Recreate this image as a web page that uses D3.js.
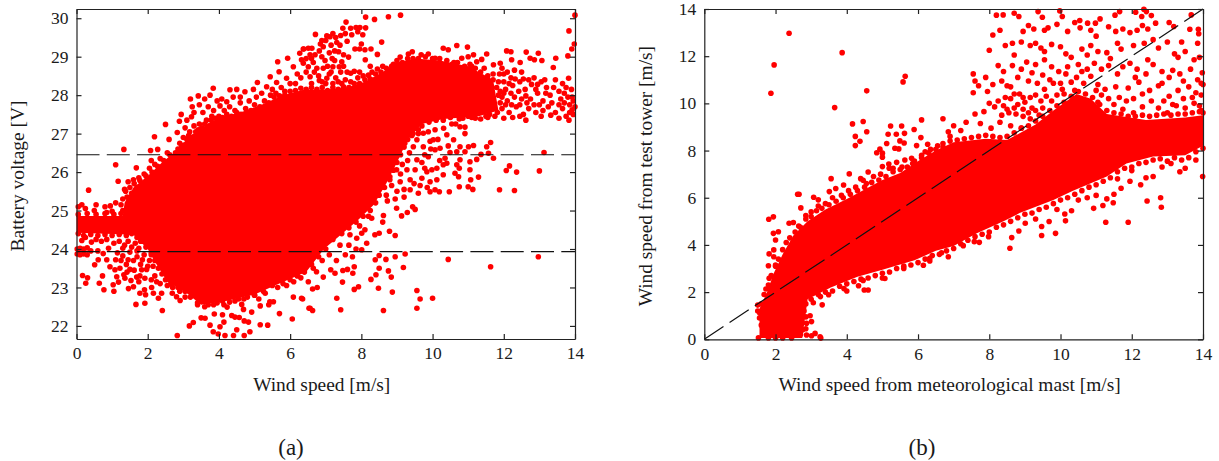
<!DOCTYPE html>
<html>
<head>
<meta charset="utf-8">
<script src="https://cdn.jsdelivr.net/npm/d3@7"></script>
<style>
	html, body { margin: 0; background: #fff; }
	svg { display: block; font-family: "Liberation Serif", serif; }
	.tick text { font-family: "Liberation Serif", serif; font-size: 17.5px; fill: #1a1a1a; }
	.tick line, .domain { stroke: #222; stroke-width: 1.2; }
</style>
</head>
<body>
<svg id="chart" width="1219" height="461"></svg>
<script>
const xTicks = [0, 2, 4, 6, 8, 10, 12, 14];
const voltageTicks = [22, 23, 24, 25, 26, 27, 28, 29, 30];
const towerTicks = [0, 2, 4, 6, 8, 10, 12, 14];
const voltageLimits = [26.45, 23.93];

// panel (a): the part of the cloud too dense to resolve single points, as an outline
const batteryCore = [
	[0, 24.42], [0, 24.86], [1.3, 24.86], [1.35, 25.2], [1.6, 25.6], [2.0, 25.9], [2.4, 26.25], [2.8, 26.55], [3.2, 26.95],
	[3.6, 27.2], [4.0, 27.42], [4.6, 27.55], [5.2, 27.75], [5.8, 28.0], [6.4, 28.15], [7.0, 28.15], [7.6, 28.2], [8.1, 28.35],
	[8.6, 28.6], [9.0, 28.85], [9.5, 28.95], [10.2, 28.9], [11.0, 28.75], [11.7, 28.4], [11.85, 27.6], [11.3, 27.45], [10.3, 27.38],
	[9.7, 27.25], [9.3, 26.85], [9.0, 26.25], [8.7, 25.7], [8.35, 25.15], [7.9, 24.75], [7.4, 24.35], [6.95, 24.0], [6.45, 23.4], [5.7, 23.1],
	[5.0, 22.82], [4.2, 22.65], [3.5, 22.55], [3.1, 22.85], [2.55, 23.15], [2.25, 23.6], [2.0, 24.0], [1.6, 24.37]
];

const batteryUpper = [
	[0.34, 25.53], [1.10, 26.19], [1.33, 26.59], [1.17, 25.76], [1.68, 26.11], [2.19, 26.92], [2.08, 26.56], [2.28, 26.59], [2.5, 27.24], [2.6, 26.85],
	[2.94, 27.5], [2.89, 27.32], [2.83, 27.03], [3.2, 27.9], [3.42, 27.98], [3.23, 27.44], [3.84, 28.18], [3.75, 28.0], [3.6, 27.9], [4.03, 27.72],
	[4.08, 27.9], [4.31, 28.14], [4.5, 28.15], [4.22, 27.83], [4.73, 28.09], [4.97, 28.15], [5.08, 28.33], [5.65, 28.87], [5.93, 28.96], [5.69, 28.61],
	[5.44, 28.48], [5.34, 28.22], [5.62, 28.33], [5.9, 28.44], [6.09, 28.74], [6.27, 29.09], [6.38, 29.2], [6.32, 28.92], [6.51, 28.74], [6.51, 29.22],
	[1.35, 25.55], [1.45, 25.75], [1.6, 25.8], [1.75, 25.85], [1.9, 25.95], [2.05, 26.1], [2.1, 26.3], [2.2, 26.2], [2.35, 26.35], [2.55, 26.5],
	[3.0, 26.9], [3.05, 27.15], [3.1, 27.35], [3.25, 27.7], [3.3, 27.55], [3.45, 27.75], [3.55, 27.55], [3.7, 27.7], [3.85, 27.6], [3.95, 27.85],
	[2.95, 26.65], [3.15, 26.95], [3.3, 27.2], [3.45, 27.25], [3.65, 27.35], [3.8, 27.45], [4.15, 27.6], [4.3, 27.7], [4.45, 27.6], [4.6, 27.8],
	[4.4, 27.95], [4.6, 27.95], [4.85, 27.85], [5.05, 27.95], [5.2, 28.05], [5.5, 28.15], [5.75, 28.2], [5.85, 28.1], [6.0, 28.3], [6.2, 28.55],
	[6.15, 28.3], [6.3, 28.45], [6.45, 28.6], [6.6, 28.3], [5.45, 28.0], [5.6, 28.05],
	[8.12, 30.03], [8.37, 29.97], [8.76, 30.04], [9.1, 30.08], [7.57, 29.9], [7.48, 29.74], [7.7, 29.74], [7.85, 29.76], [7.96, 29.76], [8.12, 29.75],
	[7.73, 29.57], [8.04, 29.57], [6.71, 29.58], [7.2, 29.6], [7.03, 29.54], [6.89, 29.42], [7.31, 29.37], [8.57, 29.38], [8.0, 29.33], [8.27, 29.2],
	[7.82, 29.2], [8.1, 29.18], [8.45, 29.06], [8.11, 28.92], [6.61, 29.22], [6.37, 29.2], [6.93, 29.26], [7.36, 29.13], [7.64, 28.99], [7.45, 28.87],
	[6.89, 29.0], [6.56, 29.05], [6.7, 29.05], [6.37, 28.83], [6.93, 28.7], [6.75, 28.7], [7.2, 28.74], [7.38, 28.74], [7.7, 28.57], [6.56, 28.48],
	[7.03, 28.44], [7.35, 28.35], [7.15, 29.3], [7.25, 29.15], [7.1, 29.1], [6.98, 28.9], [6.8, 28.5], [6.65, 28.85], [7.55, 29.6], [7.42, 29.55],
	[7.95, 29.2], [7.15, 28.6], [6.9, 28.35], [7.55, 28.4], [7.9, 28.45], [8.05, 28.5], [8.3, 28.6], [8.6, 28.75], [8.9, 28.8], [8.75, 28.6],
	[6.45, 28.95], [6.6, 28.95], [6.82, 29.15], [6.85, 29.33], [7.0, 29.42], [7.12, 29.52], [7.28, 29.5], [7.05, 28.75], [7.1, 28.55], [7.28, 28.45],
	[7.42, 28.6], [7.5, 28.75], [7.6, 28.6], [7.8, 28.62], [7.95, 28.6], [6.68, 28.6], [6.82, 28.38], [7.0, 28.3], [7.2, 28.3], [7.45, 28.3],
	[7.7, 28.35], [8.2, 28.52], [8.45, 28.68], [8.25, 28.75], [7.25, 28.9], [7.5, 29.05], [7.18, 28.95], [7.9, 29.65], [7.6, 29.4], [7.4, 29.3]
];

const batteryRight = [
	[9.09, 28.99], [9.32, 29.07], [9.43, 29.13], [9.68, 29.05], [9.88, 29.07], [10.07, 28.96], [10.3, 29.22], [10.44, 29.18], [10.68, 29.29], [10.98, 29.25],
	[10.82, 28.96], [11.0, 29.0], [11.15, 29.05], [11.38, 28.93], [11.52, 29.07], [11.24, 28.87], [12.08, 29.15], [12.2, 29.13], [12.22, 28.92], [11.9, 28.83],
	[11.71, 28.79], [12.46, 28.85], [12.63, 29.12], [12.74, 28.96], [12.97, 29.09], [12.86, 28.92], [13.07, 28.9], [13.46, 28.96], [13.39, 28.72], [13.8, 29.02],
	[13.91, 29.2], [13.98, 29.33], [13.83, 29.67], [14.0, 30.08], [13.82, 28.44], [9.6, 28.95], [10.2, 28.95], [10.6, 28.85], [11.1, 28.75], [11.45, 28.7],
	[11.7, 28.55], [11.95, 28.7], [12.1, 28.6], [12.3, 28.65], [12.5, 28.6], [12.2, 28.45], [12.0, 28.35], [11.9, 28.1], [12.05, 28.15], [12.25, 28.25],
	[12.45, 28.35], [12.6, 28.15], [12.7, 28.4], [12.85, 28.45], [13.05, 28.35], [13.2, 28.2], [13.45, 28.4], [13.3, 28.0], [13.55, 28.1], [13.75, 28.2],
	[13.9, 28.15], [13.6, 27.9], [13.8, 27.95], [13.95, 27.85], [12.1, 27.85], [12.3, 27.95], [12.5, 27.9], [12.75, 27.9], [12.95, 28.05], [13.1, 27.85],
	[11.95, 27.65], [12.15, 27.55], [12.35, 27.7], [12.55, 27.5], [12.7, 27.65], [12.9, 27.55], [13.1, 27.6], [13.25, 27.7], [13.45, 27.55], [13.65, 27.65],
	[13.75, 27.45], [13.85, 27.55], [14.0, 27.7], [13.92, 27.62], [13.83, 27.35], [12.62, 27.35], [12.45, 27.45], [12.25, 27.42], [13.32, 27.48], [13.05, 27.45],
	[11.75, 27.45], [11.55, 27.42], [11.35, 27.38], [11.1, 27.42], [10.85, 27.4], [12.0, 27.4], [13.55, 27.4], [13.95, 27.5],
	[12.0, 28.55], [12.15, 28.3], [12.32, 28.42], [12.55, 28.42], [12.78, 28.28], [12.95, 28.28], [12.62, 27.98], [12.42, 28.1], [12.2, 28.05], [12.05, 27.75],
	[12.22, 27.75], [12.45, 27.75], [12.65, 27.8], [12.85, 27.75], [13.0, 27.75], [13.18, 28.05], [13.35, 27.8], [13.55, 27.75], [13.7, 27.8], [13.85, 27.75],
	[13.92, 27.95], [13.7, 28.05], [13.4, 28.2], [13.15, 28.4], [12.9, 28.15], [11.95, 27.95], [12.0, 28.05], [11.85, 28.35], [11.88, 28.55], [13.65, 28.3],
	[10.4, 26.97], [10.77, 27.18], [10.91, 27.17], [10.91, 27.0], [10.54, 27.25], [10.65, 27.25], [10.31, 27.14], [10.07, 27.1], [9.88, 27.05], [9.93, 26.8],
	[10.02, 26.84], [10.21, 26.62], [10.07, 26.58], [9.88, 26.4], [10.35, 26.36], [10.3, 26.19], [10.4, 26.23], [10.12, 26.1], [9.84, 26.01], [9.98, 26.06],
	[10.3, 25.93], [10.12, 25.8], [9.93, 25.75], [9.7, 25.84], [9.51, 26.06], [9.56, 26.32], [9.7, 26.25], [9.37, 25.8], [9.37, 25.54], [9.6, 25.45],
	[10.07, 25.54], [9.09, 25.75], [8.8, 25.88], [8.99, 26.06], [9.28, 26.06], [9.74, 26.66], [9.56, 26.84], [9.46, 26.66], [9.74, 27.01], [9.51, 27.14],
	[11.88, 25.54], [12.3, 25.52], [12.07, 26.04], [12.16, 26.16], [12.36, 26.0], [13.0, 26.03], [13.13, 26.51], [11.29, 25.87], [11.71, 26.36], [11.57, 26.49],
	[11.52, 26.66], [11.63, 26.77], [11.36, 26.46], [11.24, 26.33], [11.05, 26.27], [11.05, 26.06], [11.07, 25.8], [11.13, 25.55], [11.0, 25.62], [10.77, 26.32],
	[10.75, 26.1], [10.68, 26.19], [10.73, 25.88], [10.75, 25.62], [10.63, 25.97], [11.15, 26.69], [11.01, 26.66], [10.77, 26.66], [10.91, 26.53], [10.68, 26.53],
	[10.49, 26.51], [10.44, 26.68], [10.59, 26.84], [10.19, 25.49], [10.47, 25.49], [9.93, 25.49], [8.95, 25.3], [9.2, 25.35], [8.55, 25.6], [8.7, 25.4],
	[9.35, 26.5], [9.3, 26.3], [9.22, 26.75], [9.42, 26.95], [9.6, 27.0], [9.15, 26.2], [9.1, 25.95], [9.2, 25.55], [9.0, 25.5], [8.85, 25.65],
	[9.48, 25.7], [9.78, 26.1], [9.65, 25.65], [9.85, 25.6], [10.2, 26.3], [10.15, 26.85], [9.95, 26.6], [9.78, 26.45]
];

const batteryLower = [
	[0.05, 25.1], [0.15, 25.15], [0.25, 25.05], [0.55, 25.15], [0.5, 25.0], [0.8, 25.1], [0.95, 25.12], [1.1, 25.2], [1.25, 25.15], [0.85, 24.95],
	[1.3, 25.0], [1.0, 24.98], [0.25, 24.3], [0.55, 24.25], [0.7, 24.2], [1.05, 24.15], [1.45, 24.2], [1.65, 24.15], [1.8, 24.2], [2.0, 24.15],
	[0.02, 24.0], [0.1, 24.02], [0.2, 24.0], [0.3, 24.03], [0.02, 23.87], [0.1, 23.85], [0.2, 23.87], [0.3, 23.85], [0.4, 23.95], [0.6, 23.95],
	[0.75, 23.88], [0.9, 24.02], [1.15, 23.9], [1.3, 24.02], [1.5, 23.92], [1.7, 23.95], [1.9, 23.85], [2.1, 23.9],
	[0.51, 23.59], [0.61, 23.72], [0.85, 23.72], [0.94, 23.54], [0.17, 23.31], [0.31, 23.25], [0.26, 23.11], [0.64, 23.11], [0.73, 23.3], [0.77, 22.94],
	[1.03, 23.07], [1.05, 22.9], [1.13, 23.28], [1.18, 23.14], [1.36, 23.24], [1.33, 23.33], [1.46, 22.97], [1.6, 23.02], [1.53, 23.18], [1.08, 23.46],
	[1.22, 23.5], [1.5, 23.47], [1.69, 23.27], [1.83, 23.46], [1.97, 23.47], [1.92, 23.24], [1.78, 22.85], [1.91, 22.94], [1.94, 22.81], [1.67, 22.56],
	[1.92, 22.59], [2.41, 22.4], [2.11, 23.0], [2.16, 22.85], [2.39, 22.85], [2.3, 22.72], [2.69, 22.85], [2.81, 22.76], [2.91, 22.66], [1.25, 23.7],
	[1.4, 23.6], [1.6, 23.7], [1.8, 23.6], [2.05, 23.7], [2.2, 23.3], [2.35, 23.1], [2.55, 23.05], [2.7, 23.0], [2.9, 22.9], [3.05, 22.75],
	[3.17, 22.0], [3.28, 22.09], [3.5, 22.21], [3.61, 22.2], [3.87, 22.31], [4.1, 22.29], [3.75, 22.02], [3.84, 21.85], [3.98, 21.79], [4.03, 21.98],
	[4.14, 22.1], [4.17, 21.75], [4.41, 21.75], [4.71, 21.75], [4.87, 21.85], [4.5, 21.9], [4.36, 22.27], [4.45, 22.23], [4.57, 22.22], [4.71, 22.13],
	[4.83, 22.1], [4.92, 22.36], [4.69, 22.43], [4.64, 22.56], [4.14, 22.55], [4.23, 22.49], [5.16, 22.03], [5.37, 22.02], [5.7, 22.32], [6.06, 22.18],
	[2.83, 21.75], [6.09, 22.75], [6.32, 22.72], [6.53, 22.46], [5.16, 22.52], [5.43, 22.63], [5.53, 22.63], [5.12, 22.7], [5.4, 22.55], [3.4, 22.55],
	[3.7, 22.55], [3.95, 22.6], [4.45, 22.65], [4.7, 22.7], [5.0, 22.8], [5.3, 22.85], [5.65, 23.0], [5.9, 23.05], [6.1, 23.15], [6.3, 23.25],
	[6.35, 22.7], [6.56, 22.46], [6.63, 22.4], [6.63, 22.96], [6.76, 23.0], [7.31, 22.72], [7.42, 22.42], [6.93, 23.27], [7.47, 23.14], [7.8, 22.95],
	[7.92, 23.02], [8.27, 23.21], [8.48, 22.98], [8.62, 22.4], [8.87, 22.88], [9.56, 22.92], [9.65, 22.7], [10.0, 22.72], [9.56, 22.46], [8.84, 23.27],
	[8.76, 23.43], [9.18, 23.52], [8.95, 23.8], [9.23, 23.87], [8.69, 23.73], [8.5, 23.5], [8.41, 23.33], [8.39, 23.72], [8.5, 23.83], [10.44, 23.73],
	[11.63, 23.54], [12.97, 23.8], [7.76, 23.37], [7.61, 23.47], [7.48, 23.44], [7.8, 23.54], [7.26, 23.37], [7.14, 23.46], [6.65, 23.5], [6.51, 23.15],
	[6.74, 23.41], [8.01, 23.98], [8.95, 24.35], [8.79, 24.46], [8.5, 24.41], [8.38, 24.37], [8.15, 24.15], [8.6, 24.7], [8.62, 24.87], [8.99, 25.06],
	[9.13, 24.86], [9.29, 24.95], [9.51, 25.03], [9.44, 25.1], [8.73, 25.25], [8.29, 24.8], [8.1, 24.5], [7.87, 24.28], [7.68, 24.37], [8.01, 24.41],
	[6.9, 23.7], [7.1, 23.85], [7.3, 23.7], [7.55, 23.85], [7.75, 23.8], [7.85, 24.0], [7.4, 24.1], [7.65, 24.1], [7.95, 24.6], [8.2, 24.85],
	[0.15, 24.22], [0.42, 24.18], [0.85, 24.25], [1.2, 24.2], [1.35, 24.1], [1.55, 24.05], [1.75, 24.02], [1.1, 23.72], [1.3, 23.82], [1.45, 23.72],
	[1.7, 23.8], [1.85, 23.72], [2.0, 23.55], [2.15, 23.55], [2.1, 23.2], [1.75, 23.15], [1.42, 23.4], [1.62, 23.45], [1.78, 23.3], [2.25, 23.15]
];

// edge of the dense part, where single dots still show
const batteryFringe = [
	[1.3, 25.3], [1.38, 25.5], [1.42, 25.35], [1.5, 25.6], [1.55, 25.45], [1.62, 25.7], [1.7, 25.6], [1.78, 25.78], [1.85, 25.7], [1.95, 25.9],
	[2.02, 25.8], [2.12, 26.0], [2.2, 25.95], [2.28, 26.15], [2.38, 26.1], [2.45, 26.3], [2.52, 26.2], [2.62, 26.45], [2.7, 26.35], [2.78, 26.5],
	[2.85, 26.6], [2.9, 26.75], [3.02, 26.7], [3.1, 26.85], [3.18, 27.05], [3.22, 26.9], [3.35, 27.05], [3.42, 27.1], [3.52, 27.15], [3.6, 27.25],
	[3.72, 27.2], [3.78, 27.35], [3.9, 27.4], [4.0, 27.45], [4.1, 27.42], [4.22, 27.5], [4.35, 27.45], [4.5, 27.55], [4.62, 27.5], [4.75, 27.65],
	[4.9, 27.6], [5.0, 27.75], [5.15, 27.7], [5.28, 27.85], [5.4, 27.8], [5.55, 27.95], [5.7, 27.98], [5.85, 28.0], [6.0, 28.1], [6.15, 28.12],
	[6.3, 28.18], [6.45, 28.15], [6.6, 28.2], [6.75, 28.15], [6.9, 28.2], [7.05, 28.12], [7.2, 28.2], [7.35, 28.15], [7.5, 28.22], [7.65, 28.2],
	[7.8, 28.3], [7.95, 28.3], [8.1, 28.4], [8.25, 28.42], [8.4, 28.55], [8.55, 28.6], [8.7, 28.7], [8.85, 28.75], [9.0, 28.9], [9.15, 28.85],
	[9.3, 28.95], [9.45, 28.95], [9.8, 29.0], [10.0, 28.95], [10.2, 28.85], [10.4, 28.9], [10.55, 28.8], [10.7, 28.85], [10.9, 28.75], [11.05, 28.8],
	[11.2, 28.7], [11.35, 28.6], [11.55, 28.5], [11.7, 28.4], [11.8, 28.2], [11.85, 28.0], [11.9, 27.8], [11.82, 27.55], [11.6, 27.5], [11.5, 27.45],
	[11.2, 27.4], [11.0, 27.45], [10.75, 27.38], [10.5, 27.42], [10.3, 27.35], [10.1, 27.35], [9.9, 27.3], [9.7, 27.2], [9.6, 27.1], [9.45, 27.0],
	[9.3, 26.85], [9.2, 26.65], [9.1, 26.45], [9.0, 26.25], [8.9, 26.05], [8.8, 25.8], [8.65, 25.6], [8.5, 25.4], [8.4, 25.2], [8.25, 25.0],
	[8.05, 24.85], [7.85, 24.7], [7.65, 24.55], [7.45, 24.4], [7.2, 24.25], [7.0, 24.0], [6.8, 23.8], [6.6, 23.6], [6.4, 23.4], [6.2, 23.3],
	[6.0, 23.2], [5.8, 23.1], [5.5, 23.05], [5.25, 22.9], [5.0, 22.8], [4.8, 22.75], [4.55, 22.7], [4.3, 22.62], [4.1, 22.65], [3.85, 22.55],
	[3.6, 22.5], [3.4, 22.6], [3.2, 22.75], [3.05, 22.9], [2.85, 23.0], [2.65, 23.1], [2.5, 23.2], [2.4, 23.35], [2.3, 23.5], [2.2, 23.7],
	[2.1, 23.85], [1.95, 24.05], [1.85, 24.2], [1.7, 24.3], [1.55, 24.4], [1.4, 24.35], [1.2, 24.38], [1.0, 24.35], [0.8, 24.38], [0.6, 24.35],
	[0.4, 24.38], [0.2, 24.35], [0.05, 24.4], [0.05, 24.9], [0.3, 24.92], [0.55, 24.9], [0.8, 24.92], [1.05, 24.9], [1.25, 24.92]
];

// panel (b)
const towerCore = [
	[1.55, 0.05], [1.55, 1.3], [1.75, 1.95], [1.95, 2.8], [2.2, 3.6], [2.5, 4.4], [2.9, 5.0], [3.4, 5.5], [4.0, 5.95], [4.5, 6.35],
	[5.0, 6.75], [5.5, 7.05], [6.05, 7.6], [6.5, 8.0], [7.0, 8.35], [7.9, 8.5], [8.5, 8.45], [9.3, 9.1], [9.8, 9.7], [10.45, 10.4],
	[10.85, 10.2], [11.3, 9.55], [12.4, 9.3], [13.5, 9.4], [14, 9.5], [14, 8.2], [13.5, 7.8], [12.6, 7.75], [11.85, 7.45], [11.3, 6.9],
	[10.35, 6.3], [9.8, 5.9], [8.85, 5.35], [8.4, 5.0], [7.65, 4.5], [7.0, 3.95], [6.5, 3.75], [5.9, 3.35], [5.0, 2.95], [4.3, 2.65],
	[3.55, 2.2], [2.9, 1.7], [2.75, 0.05]
];

const towerLeft = [
	[1.87, 10.43], [1.96, 11.63], [2.38, 12.97], [3.87, 12.15], [3.66, 9.82], [4.56, 10.53], [5.58, 10.91], [5.64, 11.15], [4.16, 9.13], [4.46, 9.23],
	[4.56, 8.8], [4.24, 8.6], [4.37, 8.39], [4.24, 8.21], [5.23, 9.04], [5.54, 9.04], [5.16, 8.69], [5.39, 8.69], [5.62, 8.73], [5.89, 8.89],
	[6.08, 8.55], [5.49, 8.41], [5.61, 8.32], [5.12, 8.3], [5.35, 8.1], [5.46, 8.07], [5.96, 8.21], [6.27, 8.27], [4.93, 8.06], [4.84, 7.91],
	[5.0, 7.89], [5.0, 7.72], [5.4, 7.5], [5.63, 7.6], [5.82, 7.67], [5.0, 7.32], [5.18, 7.43], [5.19, 7.25], [4.07, 7.01], [4.6, 7.09],
	[3.56, 6.81], [4.39, 6.81], [4.46, 6.74], [3.69, 6.39], [3.51, 6.26], [3.91, 6.54], [2.62, 6.15], [2.66, 6.15], [3.07, 6.02], [3.2, 5.91],
	[1.81, 5.09], [1.94, 5.19], [2.71, 5.57], [2.38, 4.92], [2.5, 4.95], [1.94, 4.49], [2.08, 4.56], [2.0, 4.21], [1.95, 3.79], [1.82, 3.62],
	[1.95, 3.5], [1.8, 3.12], [2.0, 3.15], [1.82, 2.59], [1.73, 2.13], [1.84, 2.23], [1.52, 0.06], [1.5, 1.45], [1.56, 1.1], [2.65, 4.8],
	[2.85, 5.25], [3.0, 5.4], [3.2, 5.65], [3.4, 5.75], [3.6, 6.0], [3.85, 6.1], [4.05, 6.3], [4.25, 6.45], [4.55, 6.6], [4.75, 6.9],
	[4.95, 7.0], [5.3, 7.25], [5.55, 7.3], [5.85, 7.45], [6.1, 7.8], [6.2, 7.95], [6.35, 8.05], [6.55, 8.2], [6.7, 8.3], [6.9, 8.6]
];

const towerLower = [
	[2.97, 1.0], [3.01, 0.75], [2.87, 0.68], [2.76, 0.4], [3.11, 0.25], [3.25, 0.11], [3.27, 0.05], [2.87, 0.18], [3.01, 0.15], [3.31, 1.46],
	[3.06, 1.55], [3.49, 1.89], [3.26, 1.81], [3.92, 2.15], [4.0, 2.05], [4.33, 2.27], [4.46, 2.49], [4.6, 2.09], [4.49, 2.09], [5.0, 2.6],
	[5.07, 2.58], [5.6, 3.0], [6.15, 3.14], [6.33, 3.43], [6.33, 3.32], [6.66, 3.67], [6.85, 3.5], [7.27, 3.97], [7.58, 4.14], [7.72, 4.11],
	[7.98, 4.35], [8.58, 3.86], [8.63, 4.31], [8.83, 4.59], [9.01, 4.92], [9.47, 4.4], [9.47, 4.78], [9.86, 4.49], [9.68, 4.99], [10.14, 5.02],
	[10.31, 5.45], [10.12, 5.31], [11.27, 4.96], [11.9, 4.96], [12.81, 6.0], [12.83, 5.6], [12.43, 5.86], [10.93, 5.55], [11.19, 5.67], [11.48, 5.79],
	[9.3, 5.1], [9.9, 5.5], [10.5, 5.9], [10.75, 6.0], [11.0, 6.1], [11.3, 5.95], [11.5, 6.15], [11.7, 6.4], [11.95, 6.7], [12.25, 6.55],
	[12.4, 6.85], [12.6, 6.9], [12.85, 7.3], [13.1, 7.45], [13.35, 7.1], [13.99, 6.9], [13.5, 7.25], [13.8, 7.6], [12.0, 7.15], [11.6, 6.8]
];

const towerUpper = [
	[8.2, 13.74], [8.39, 13.75], [8.7, 13.82], [8.83, 13.68], [9.37, 13.89], [9.49, 13.65], [9.98, 13.92], [10.05, 13.68], [10.4, 13.43], [10.54, 13.51],
	[10.76, 13.4], [10.98, 13.4], [11.11, 13.58], [11.53, 13.74], [11.66, 13.89], [12.11, 13.86], [12.34, 13.99], [12.41, 13.89], [12.28, 13.68], [12.55, 13.72],
	[12.67, 13.4], [13.05, 13.43], [13.18, 13.26], [13.67, 13.75], [13.63, 13.14], [13.87, 13.14], [13.88, 12.95], [8.3, 13.1], [8.1, 12.9], [9.1, 13.3],
	[8.95, 13.05], [9.25, 13.15], [9.55, 13.1], [9.65, 13.2], [9.9, 13.35], [10.2, 13.05], [10.55, 13.2], [10.85, 13.1], [11.0, 12.85], [11.35, 13.25],
	[11.55, 13.05], [11.75, 13.15], [11.95, 13.0], [12.15, 13.1], [12.3, 13.3], [12.45, 13.15], [12.6, 12.7], [13.0, 12.6], [8.0, 12.25], [8.45, 12.45],
	[8.65, 12.55], [8.9, 12.6], [9.15, 12.45], [9.3, 12.55], [9.45, 12.35], [9.75, 12.5], [10.0, 12.4], [10.15, 12.1], [10.3, 11.95], [10.6, 12.3],
	[10.85, 12.45], [11.05, 12.2], [11.3, 12.15], [11.6, 12.55], [11.7, 12.3], [12.05, 12.45], [12.35, 12.55], [12.75, 12.35], [13.4, 12.6], [13.5, 12.2],
	[13.9, 11.95], [13.75, 11.85], [13.3, 11.95], [13.15, 11.4], [8.4, 11.35], [8.65, 11.6], [8.9, 11.45], [9.05, 11.75], [9.3, 11.65], [9.55, 11.85],
	[9.75, 11.55], [9.95, 11.35], [10.2, 11.55], [10.5, 11.65], [10.75, 11.45], [10.95, 11.7], [11.15, 11.45], [11.35, 11.6], [11.6, 11.25], [11.95, 11.7],
	[12.15, 11.45], [12.4, 11.25], [12.6, 11.65], [12.85, 11.35], [13.05, 11.1], [13.35, 11.25], [13.65, 11.45], [13.85, 11.0], [13.95, 10.85], [7.55, 11.25],
	[7.9, 11.1], [7.6, 10.95], [7.7, 10.75], [7.55, 10.45], [7.95, 10.5], [8.1, 10.8], [8.35, 10.95], [8.6, 10.7], [8.85, 10.4], [9.1, 10.95],
	[9.35, 10.85], [9.55, 10.6], [9.8, 10.85], [10.05, 10.6], [10.3, 10.9], [10.65, 10.85], [11.05, 10.8], [11.25, 10.6], [11.55, 10.7], [11.9, 10.65],
	[12.2, 10.9], [12.5, 10.55], [12.75, 10.75], [13.05, 10.3], [13.3, 10.55], [13.6, 10.7], [13.8, 10.45], [8.0, 10.0], [7.85, 9.65], [8.15, 9.85],
	[8.4, 9.9], [8.6, 10.2], [8.8, 9.95], [9.0, 10.05], [9.2, 9.8], [9.45, 10.1], [8.35, 9.5], [8.55, 9.6], [8.75, 9.55], [8.95, 9.45],
	[9.15, 9.35], [9.4, 9.5], [7.6, 9.55], [7.35, 9.2], [6.7, 9.35], [6.1, 9.3], [7.75, 9.15], [7.2, 8.85], [7.0, 9.05], [6.85, 8.8],
	[8.05, 8.95], [8.3, 9.2], [8.6, 9.05], [8.9, 8.95], [11.05, 10.05], [11.35, 10.2], [11.5, 9.95], [11.75, 9.75], [12.05, 9.6], [12.3, 9.85],
	[12.55, 10.1], [12.75, 9.8], [13.0, 9.6], [13.25, 9.9], [13.5, 9.8], [13.75, 10.0], [13.95, 9.7], [13.9, 9.9], [14, 10.8], [13.98, 11.3],
	[8.45, 10.25], [8.25, 10.1], [8.7, 10.4], [8.95, 10.25], [9.15, 10.25], [9.3, 10.35], [8.5, 9.75], [8.7, 9.8], [8.95, 9.75], [9.1, 9.6],
	[9.3, 9.7], [9.5, 9.8], [9.6, 10.3], [9.75, 10.1], [9.9, 10.35], [10.1, 10.4], [10.0, 10.85], [9.7, 11.0], [10.45, 11.1], [10.6, 11.35],
	[10.15, 11.25], [9.5, 11.2], [9.2, 11.3], [8.8, 11.1], [8.5, 10.75], [11.15, 10.35], [11.0, 10.55], [11.65, 10.25], [11.85, 10.1], [12.05, 10.2],
	[12.3, 10.4], [12.9, 10.1], [13.15, 9.95], [13.45, 10.2], [13.7, 10.25], [13.95, 10.35], [12.1, 11.1], [11.75, 11.55], [10.85, 11.15], [10.4, 10.55],
	[12.85, 10.85], [13.45, 10.95], [13.2, 12.1], [13.85, 12.55], [12.45, 11.85], [11.4, 11.9], [10.75, 12.05], [9.55, 12.2], [8.7, 12.05], [8.25, 11.6]
];

const towerFringe = [
	[1.6, 1.5], [1.68, 1.9], [1.8, 2.3], [1.88, 2.7], [2.0, 3.1], [2.08, 3.4], [2.2, 3.8], [2.3, 4.1], [2.4, 4.3], [2.55, 4.55],
	[2.7, 4.75], [2.85, 5.1], [3.0, 5.2], [3.15, 5.45], [3.3, 5.55], [3.5, 5.7], [3.7, 5.85], [3.9, 6.0], [4.1, 6.15], [4.3, 6.3],
	[4.5, 6.45], [4.7, 6.65], [4.9, 6.75], [5.1, 6.9], [5.3, 7.1], [5.5, 7.2], [5.7, 7.3], [5.9, 7.55], [6.1, 7.7], [6.3, 7.9],
	[6.5, 8.05], [6.7, 8.15], [6.9, 8.4], [7.1, 8.45], [7.3, 8.5], [7.5, 8.55], [7.7, 8.6], [7.9, 8.65], [8.1, 8.6], [8.3, 8.55],
	[8.5, 8.6], [8.7, 8.75], [8.9, 8.95], [9.1, 9.05], [9.3, 9.25], [9.5, 9.45], [9.7, 9.7], [9.9, 9.9], [10.1, 10.05], [10.3, 10.3],
	[10.5, 10.5], [10.7, 10.4], [10.9, 10.25], [11.1, 9.95], [11.3, 9.7], [11.5, 9.6], [11.7, 9.55], [11.9, 9.45], [12.1, 9.45], [12.3, 9.5],
	[12.5, 9.45], [12.7, 9.5], [12.9, 9.55], [13.1, 9.5], [13.3, 9.55], [13.5, 9.55], [13.7, 9.6], [13.9, 9.65], [14, 9.6], [14, 8.1],
	[13.8, 7.95], [13.6, 7.7], [13.4, 7.6], [13.2, 7.7], [13.0, 7.55], [12.8, 7.65], [12.6, 7.6], [12.4, 7.5], [12.2, 7.45], [12.0, 7.3],
	[11.8, 7.25], [11.6, 7.1], [11.4, 6.85], [11.2, 6.7], [11.0, 6.55], [10.8, 6.45], [10.6, 6.3], [10.4, 6.15], [10.2, 6.0], [10.0, 5.9],
	[9.8, 5.75], [9.6, 5.6], [9.4, 5.5], [9.2, 5.35], [9.0, 5.3], [8.8, 5.15], [8.6, 5.0], [8.4, 4.85], [8.2, 4.75], [8.0, 4.55],
	[7.8, 4.45], [7.6, 4.35], [7.4, 4.2], [7.2, 4.05], [7.0, 3.85], [6.8, 3.75], [6.6, 3.6], [6.4, 3.55], [6.2, 3.4], [6.0, 3.25],
	[5.8, 3.15], [5.6, 3.1], [5.4, 3.0], [5.2, 2.85], [5.0, 2.8], [4.8, 2.7], [4.6, 2.6], [4.4, 2.55], [4.2, 2.45], [4.0, 2.35],
	[3.8, 2.25], [3.6, 2.05], [3.4, 2.0], [3.2, 1.9], [3.0, 1.7], [2.85, 1.5], [2.8, 1.2], [2.85, 0.95], [2.75, 0.7], [2.85, 0.45],
	[2.7, 0.2], [1.5, 1.2], [1.55, 0.9], [1.6, 0.6], [1.65, 0.4], [1.75, 0.2], [1.8, 0.06], [2.0, 0.06], [2.2, 0.06], [2.45, 0.06]
];

const width = 1219;
const height = 461;
const svg = d3.select("#chart");

function drawPanel(opts) {
	const { left, right, top, bottom, yDomain, yTicks, core, points, xLabel, yLabel, yLabelX, caption, captionX } = opts;
	const x = d3.scaleLinear().domain([0, 14]).range([left, right]);
	const y = d3.scaleLinear().domain(yDomain).range([bottom, top]);
	const g = svg.append("g");

	const outline = d3.line().x((d) => x(d[0])).y((d) => y(d[1])).curve(d3.curveLinearClosed);
	g.append("path").attr("d", outline(core)).attr("fill", "#ff0000");

	g.append("g")
		.selectAll("circle")
		.data(points)
		.join("circle")
		.attr("cx", (d) => x(d[0]))
		.attr("cy", (d) => y(d[1]))
		.attr("r", 2.8)
		.attr("fill", "#ff0000");

	if (opts.limits) {
		g.selectAll(".limit")
			.data(opts.limits)
			.join("line")
			.attr("class", "limit")
			.attr("x1", x(0))
			.attr("x2", x(14))
			.attr("y1", (d) => y(d))
			.attr("y2", (d) => y(d))
			.attr("stroke", "#111")
			.attr("stroke-width", 1.2)
			.attr("stroke-dasharray", "23 7.3");
	} else {
		g.append("line")
			.attr("x1", x(0))
			.attr("y1", y(0))
			.attr("x2", x(14))
			.attr("y2", y(14))
			.attr("stroke", "#111")
			.attr("stroke-width", 1.2)
			.attr("stroke-dasharray", "23 7.3");
	}

	const axes = [
		[d3.axisBottom(x).tickValues(xTicks), `translate(0,${bottom})`],
		[d3.axisTop(x).tickValues(xTicks).tickFormat(""), `translate(0,${top})`],
		[d3.axisLeft(y).tickValues(yTicks), `translate(${left},0)`],
		[d3.axisRight(y).tickValues(yTicks).tickFormat(""), `translate(${right},0)`],
	];
	axes.forEach(([axis, transform]) => {
		g.append("g")
			.attr("transform", transform)
			.call(axis.tickSizeInner(-5).tickSizeOuter(0).tickPadding(8));
	});

	g.append("text")
		.attr("x", (left + right) / 2 - 4)
		.attr("y", 391)
		.attr("text-anchor", "middle")
		.attr("font-size", 19.4)
		.attr("fill", "#1a1a1a")
		.text(xLabel);
	g.append("text")
		.attr("transform", `translate(${yLabelX},${(top + bottom) / 2 + 2}) rotate(-90)`)
		.attr("text-anchor", "middle")
		.attr("font-size", 19.4)
		.attr("fill", "#1a1a1a")
		.text(yLabel);
	g.append("text")
		.attr("x", captionX)
		.attr("y", 455)
		.attr("text-anchor", "middle")
		.attr("font-size", 23)
		.attr("fill", "#1a1a1a")
		.text(caption);
}

drawPanel({
	left: 76.5,
	right: 575,
	top: 9,
	bottom: 339,
	yDomain: [21.66, 30.24],
	yTicks: voltageTicks,
	core: batteryCore,
	points: [...batteryUpper, ...batteryRight, ...batteryLower, ...batteryFringe],
	limits: voltageLimits,
	xLabel: "Wind speed [m/s]",
	yLabel: "Battery voltage [V]",
	yLabelX: 24,
	caption: "(a)",
	captionX: 291,
});

drawPanel({
	left: 704.3,
	right: 1203,
	top: 9,
	bottom: 339.3,
	yDomain: [0, 14],
	yTicks: towerTicks,
	core: towerCore,
	points: [...towerLeft, ...towerLower, ...towerUpper, ...towerFringe],
	xLabel: "Wind speed from meteorological mast [m/s]",
	yLabel: "Wind speed from test tower [m/s]",
	yLabelX: 652,
	caption: "(b)",
	captionX: 922,
});
</script>
</body>
</html>
